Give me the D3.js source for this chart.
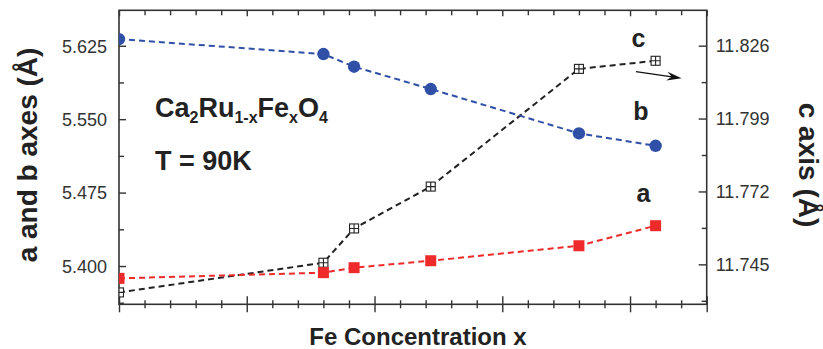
<!DOCTYPE html>
<html>
<head>
<meta charset="utf-8">
<script src="https://cdn.jsdelivr.net/npm/d3@7"></script>
<style>
  body { margin: 0; background: #fff; }
  svg { display: block; font-family: "Liberation Sans", Arial, sans-serif; }
</style>
</head>
<body>
<div id="chart"></div>
<script>
// Fe concentration of each sample
const conc = [0, 0.08, 0.092, 0.122, 0.18, 0.21];
// lattice parameters (Å)
const aAxis = [5.3874, 5.3932, 5.3983, 5.4054, 5.4207, 5.4412];
const bAxis = [5.6318, 5.6165, 5.6036, 5.5808, 5.5355, 5.5228];
const cAxis = [11.7346, 11.7456, 11.7583, 11.7738, 11.8174, 11.8204];

const leftTicks = [5.400, 5.475, 5.550, 5.625];
const leftMinor = [5.3625, 5.4375, 5.5125, 5.5875];
const rightTicks = [11.745, 11.772, 11.799, 11.826];
const rightMinor = [11.7315, 11.7585, 11.7855, 11.8125];
const xMajor = [0, 0.05, 0.10, 0.15, 0.20, 0.23];
const xMinor = [0.01, 0.02, 0.03, 0.04, 0.06, 0.07, 0.08, 0.09, 0.11, 0.12, 0.13, 0.14, 0.16, 0.17, 0.18, 0.19, 0.21, 0.22];

const width = 823, height = 349;
const m = { left: 119, right: 116.3, top: 10.3, bottom: 44.7 };
const iw = width - m.left - m.right;
const ih = height - m.top - m.bottom;

const svg = d3.select('#chart').append('svg')
    .attr('width', width)
    .attr('height', height);

const g = svg.append('g').attr('transform', `translate(${m.left},${m.top})`);

const x = d3.scaleLinear().domain([0, 0.23]).range([0, iw]);
const yL = d3.scaleLinear().domain([5.3609, 5.6612]).range([ih, 0]);
const yR = d3.scaleLinear().domain([11.7302, 11.8391]).range([ih, 0]);

svg.append('defs').append('clipPath').attr('id', 'plot')
    .append('rect').attr('width', iw).attr('height', ih);

const axisColor = '#333';

// frame
g.append('rect')
    .attr('width', iw).attr('height', ih)
    .attr('fill', 'none')
    .attr('stroke', axisColor)
    .attr('stroke-width', 1.6);

function styleAxis(sel) {
    sel.select('.domain').remove();
    sel.selectAll('line').attr('stroke', axisColor).attr('stroke-width', 1.4);
    sel.selectAll('text')
        .attr('fill', '#333')
        .style('font-size', '18px')
        .style('font-family', '"Liberation Sans", Arial, sans-serif');
}

// left axis
g.append('g').call(d3.axisLeft(yL).tickValues(leftTicks).tickFormat(d3.format('.3f')).tickSize(-7).tickPadding(12)).call(styleAxis)
    .selectAll('text').attr('dy', '0.35em');
g.append('g').call(d3.axisLeft(yL).tickValues(leftMinor).tickFormat('').tickSize(-5)).call(styleAxis);

// right axis
g.append('g').attr('transform', `translate(${iw},0)`)
    .call(d3.axisRight(yR).tickValues(rightTicks).tickFormat(d3.format('.3f')).tickSize(-8).tickPadding(9)).call(styleAxis);
g.append('g').attr('transform', `translate(${iw},0)`)
    .call(d3.axisRight(yR).tickValues(rightMinor).tickFormat('').tickSize(-5)).call(styleAxis);

// bottom axis: ticks cross the line
g.append('g').attr('transform', `translate(0,${ih - 8})`)
    .call(d3.axisBottom(x).tickValues(xMajor).tickFormat('').tickSize(16)).call(styleAxis);
g.append('g').attr('transform', `translate(0,${ih - 4})`)
    .call(d3.axisBottom(x).tickValues(xMinor).tickFormat('').tickSize(8)).call(styleAxis);

// top axis
g.append('g').call(d3.axisTop(x).tickValues(xMajor).tickFormat('').tickSize(-6)).call(styleAxis);
g.append('g').call(d3.axisTop(x).tickValues(xMinor).tickFormat('').tickSize(-5)).call(styleAxis);

// series
const plot = g.append('g').attr('clip-path', 'url(#plot)');

const series = [
    { vals: cAxis, y: yR, color: '#222', marker: 'cross' },
    { vals: aAxis, y: yL, color: '#ee2a2a', marker: 'square' },
    { vals: bAxis, y: yL, color: '#3050a8', marker: 'circle' }
];

series.forEach(s => {
    const pts = conc.map((c, i) => [x(c), s.y(s.vals[i])]);
    plot.append('path')
        .attr('d', d3.line()(pts))
        .attr('fill', 'none')
        .attr('stroke', s.color)
        .attr('stroke-width', 2)
        .attr('stroke-dasharray', '6,4');

    pts.forEach(p => {
        if (s.marker === 'circle') {
            plot.append('circle')
                .attr('cx', p[0]).attr('cy', p[1]).attr('r', 6.2)
                .attr('fill', s.color);
        } else if (s.marker === 'square') {
            plot.append('rect')
                .attr('x', p[0] - 5.5).attr('y', p[1] - 5.5)
                .attr('width', 11).attr('height', 11)
                .attr('fill', s.color);
        } else {
            const h = 4.5;
            plot.append('rect')
                .attr('x', p[0] - h).attr('y', p[1] - h)
                .attr('width', 2 * h).attr('height', 2 * h)
                .attr('fill', '#fff').attr('stroke', s.color).attr('stroke-width', 1.1);
            plot.append('path')
                .attr('d', `M${p[0] - h},${p[1]}H${p[0] + h}M${p[0]},${p[1] - h}V${p[1] + h}`)
                .attr('stroke', s.color).attr('stroke-width', 1.1);
        }
    });
});

// series labels
const lab = (t, xv, yv) => g.append('text')
    .attr('x', x(xv)).attr('y', yv)
    .attr('fill', '#222')
    .style('font-size', '25px').style('font-weight', 'bold')
    .text(t);
lab('c', 0.2006, yR(11.8255) );
lab('b', 0.2013, yL(5.5496));
lab('a', 0.2025, yL(5.4653));

// arrow next to c
const arrowStart = [x(0.2023), yR(11.8164)];
const arrowEnd = [x(0.2202), yR(11.8139)];
g.append('line')
    .attr('x1', arrowStart[0]).attr('y1', arrowStart[1])
    .attr('x2', arrowEnd[0] - 8).attr('y2', arrowEnd[1] - 1.2)
    .attr('stroke', '#111').attr('stroke-width', 1.4);
{
    const dx = arrowEnd[0] - arrowStart[0], dy = arrowEnd[1] - arrowStart[1];
    const len = Math.hypot(dx, dy), ux = dx / len, uy = dy / len;
    const bx = arrowEnd[0] - ux * 15, by = arrowEnd[1] - uy * 15;
    const nx = -uy, ny = ux;
    const notchX = arrowEnd[0] - ux * 10, notchY = arrowEnd[1] - uy * 10;
    g.append('path')
        .attr('d', `M${arrowEnd[0]},${arrowEnd[1]}L${bx + nx * 4.5},${by + ny * 4.5}L${notchX},${notchY}L${bx - nx * 4.5},${by - ny * 4.5}Z`)
        .attr('fill', '#111');
}

// formula and temperature
const formula = svg.append('text')
    .attr('x', 155).attr('y', 116.5)
    .attr('fill', '#222')
    .style('font-size', '27px').style('font-weight', 'bold');
const parts = [['Ca', false], ['2', true], ['Ru', false], ['1-x', true], ['Fe', false], ['x', true], ['O', false], ['4', true]];
let sub = false;
parts.forEach(([t, s]) => {
    const ts = formula.append('tspan').text(t);
    if (s) ts.style('font-size', '16px').attr('dy', sub ? 0 : 6);
    else if (sub) ts.attr('dy', -6);
    sub = s;
});

svg.append('text')
    .attr('x', 155).attr('y', 169.5)
    .attr('fill', '#222')
    .style('font-size', '27px').style('font-weight', 'bold')
    .text('T = 90K');

// axis titles
svg.append('text')
    .attr('transform', 'translate(37,155) rotate(-90)')
    .attr('text-anchor', 'middle')
    .attr('fill', '#222')
    .style('font-size', '28px').style('font-weight', 'bold')
    .text('a and b axes (Å)');

svg.append('text')
    .attr('transform', 'translate(799,165) rotate(90)')
    .attr('text-anchor', 'middle')
    .attr('fill', '#222')
    .style('font-size', '28px').style('font-weight', 'bold')
    .text('c axis (Å)');

svg.append('text')
    .attr('x', 418).attr('y', 345)
    .attr('text-anchor', 'middle')
    .attr('fill', '#222')
    .style('font-size', '24px').style('font-weight', 'bold')
    .text('Fe Concentration x');
</script>
</body>
</html>
